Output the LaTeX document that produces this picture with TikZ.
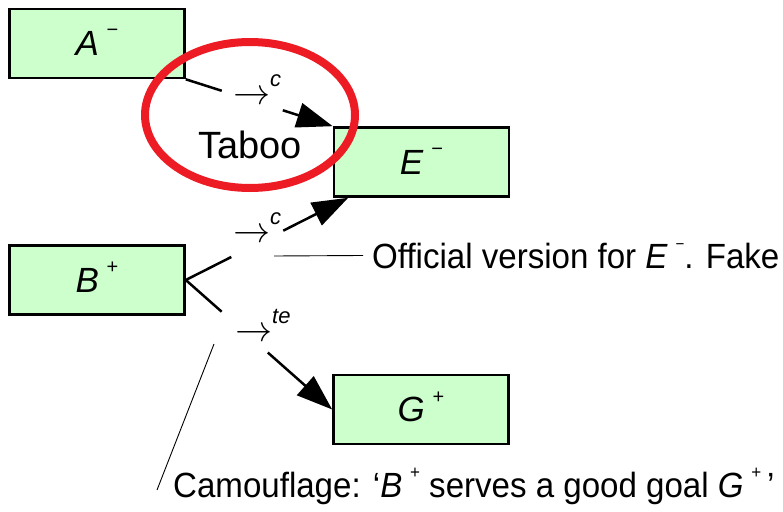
\documentclass[tikz,border=0pt]{standalone}
\usepackage{unicode-math}
\setmainfont{Liberation Sans}
\setmathfont{Latin Modern Math}
\newfontfamily\capfont[FakeStretch=0.945]{Liberation Sans}
\usetikzlibrary{arrows.meta,calc}
\definecolor{boxgreen}{HTML}{CCFFCC}
\definecolor{tabooRed}{RGB}{237,28,36}
\newcommand\supsgn[2][20]{\hspace{0.22em}\raisebox{0.53em}[0pt][0pt]{\fontsize{#1}{#1}\selectfont #2}}
\newcommand\arlbl[1]{\fontsize{37}{37}\selectfont$\rightarrow$\raisebox{18pt}{\fontsize{22}{22}\selectfont\itshape #1}}
\begin{document}
\begin{tikzpicture}[x=1pt,y=-1pt,
  box/.style={draw, line width=2.6pt, fill=boxgreen, minimum width=175pt, minimum height=69pt, inner sep=0pt, font=\fontsize{35}{35}\selectfont},
  conn/.style={line width=2.5pt},
  bigarrow/.style={-{Triangle[length=36pt,width=25pt]}},
  leader/.style={line width=0.9pt},
  txt/.style={font=\capfont\fontsize{35}{35}\selectfont, inner sep=0pt, anchor=base west},
  arlabel/.style={inner sep=0pt, anchor=base west}]
\useasboundingbox (0,0) rectangle (783,511);
% boxes
\node[box] (A) at (97,43.5) {\textit{A}\supsgn{−}};
\node[box] (B) at (97,280) {\textit{B}\supsgn{+}};
\node[box] (E) at (421.5,162) {\textit{E}\supsgn{−}};
\node[box] (G) at (421,409.5) {\textit{G}\supsgn{+}};
% connector targets
\coordinate (Et) at ([xshift=15.5pt]E.south west);
% A -> E
\draw[conn] (A.south east) -- ($(A.south east)!0.245!(E.north west)$);
\draw[conn,bigarrow] ($(A.south east)!0.66!(E.north west)$) -- (E.north west);
% B -> E
\draw[conn] (B.east) -- ($(B.east)!0.28!(Et)$);
\draw[conn,bigarrow] ($(B.east)!0.60!(Et)$) -- (Et);
% B -> G
\draw[conn] (B.east) -- ($(B.east)!0.245!(G.west)$);
\draw[conn,bigarrow] ($(B.east)!0.56!(G.west)$) -- (G.west);
% arrow labels
\node[arlabel] (lac) at (233,104.3) {\arlbl{c}};
\node[arlabel] (lbc) at (233,242.3) {\arlbl{c}};
\node[arlabel] (lbg) at (235,341.3) {\arlbl{te}};
% texts
\node[txt] (off) at (372,268) {Official version for \textit{E}\supsgn[16]{−}. Fake};
\coordinate (offl) at (274,256);
\draw[leader] (offl) -- ([xshift=-9pt]off.west);
\node[txt] (cam) at (173,497) {Camouflage: ‘\textit{B}\supsgn[18]{+} serves a good goal \textit{G}\supsgn[18]{+}\,’};
\coordinate (caml) at (214,344);
\draw[leader] (caml) -- ([xshift=-16pt,yshift=7pt]cam.base west);
\node[font=\fontsize{38}{38}\selectfont, inner sep=0pt, anchor=base] (taboo) at (250,158) {Taboo};
% taboo ellipse
\draw[tabooRed, line width=8pt] (250,115) ellipse [x radius=105pt, y radius=73pt];
\end{tikzpicture}
\end{document}
